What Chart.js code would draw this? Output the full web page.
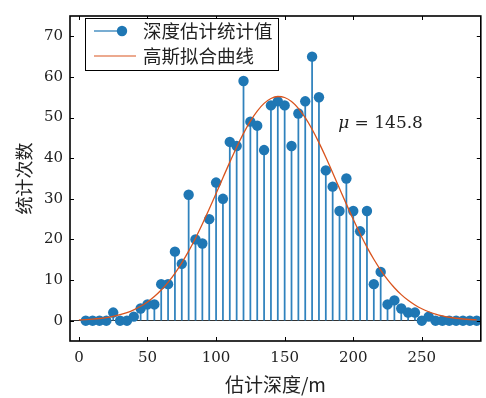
<!DOCTYPE html>
<html>
<head>
<meta charset="utf-8">
<script src="https://cdn.jsdelivr.net/npm/chart.js@4.4.1/dist/chart.umd.min.js"></script>
<style>
  html, body { margin: 0; padding: 0; background: #fff; }
  #wrap { width: 486px; height: 398px; }
</style>
</head>
<body>
<div id="wrap"><canvas id="grafico"></canvas></div>
<script>
// estimated depth histogram (x = depth in m, y = count)
const depth = [5, 10, 15, 20, 25, 30, 35, 40, 45, 50,
  55, 60, 65, 70, 75, 80, 85, 90, 95, 100,
  105, 110, 115, 120, 125, 130, 135, 140, 145, 150,
  155, 160, 165, 170, 175, 180, 185, 190, 195, 200,
  205, 210, 215, 220, 225, 230, 235, 240, 245, 250,
  255, 260, 265, 270, 275, 280, 285, 290];
const counts = [0, 0, 0, 0, 2, 0, 0, 1, 3, 4,
  4, 9, 9, 17, 14, 31, 20, 19, 25, 34,
  30, 44, 43, 59, 49, 48, 42, 53, 54, 53,
  43, 51, 54, 65, 55, 37, 33, 27, 35, 27,
  22, 27, 9, 12, 4, 5, 3, 2, 2, 0,
  1, 0, 0, 0, 0, 0, 0, 0];

// gaussian fit curve
const fitX = [0, 5, 10, 15, 20, 25, 30, 35, 40, 45,
  50, 55, 60, 65, 70, 75, 80, 85, 90, 95,
  100, 105, 110, 115, 120, 125, 130, 135, 140, 145,
  150, 155, 160, 165, 170, 175, 180, 185, 190, 195,
  200, 205, 210, 215, 220, 225, 230, 235, 240, 245,
  250, 255, 260, 265, 270, 275, 280, 285, 290];
const fitY = [0.18, 0.26, 0.38, 0.54, 0.76, 1.07, 1.47, 2.00, 2.68, 3.54,
  4.61, 5.94, 7.54, 9.45, 11.67, 14.23, 17.12, 20.31, 23.79, 27.47,
  31.30, 35.19, 39.03, 42.71, 46.11, 49.11, 51.60, 53.49, 54.70, 55.19,
  54.94, 53.95, 52.27, 49.96, 47.11, 43.83, 40.23, 36.43, 32.55, 28.69,
  24.95, 21.40, 18.11, 15.12, 12.46, 10.12, 8.12, 6.42, 5.01, 3.86,
  2.93, 2.20, 1.62, 1.18, 0.85, 0.60, 0.42, 0.29, 0.20];

const xTicks = [0, 50, 100, 150, 200, 250];
const yTicks = [0, 10, 20, 30, 40, 50, 60, 70];
const legendLabels = ['深度估计统计值', '高斯拟合曲线'];
const muText = '145.8';

const azul = '#1f77b4';
const vermelho = '#d9541e';
const serif = '"DejaVu Serif", "Liberation Serif", serif';
const cjk = '"Noto Sans CJK SC", sans-serif';

const pts = depth.map((d, i) => ({x: d, y: counts[i]}));
const curva = fitX.map((d, i) => ({x: d, y: fitY[i]}));

// frame, inward ticks, legend box and mu label
const extras = {
  id: 'extras',
  afterDraw(chart) {
    const {ctx, chartArea: a, scales: {x, y}} = chart;
    ctx.save();
    ctx.strokeStyle = '#000';
    ctx.lineWidth = 1;
    const tl = 4;
    xTicks.forEach(v => {
      const px = Math.round(x.getPixelForValue(v)) + 0.5;
      ctx.beginPath();
      ctx.moveTo(px, a.bottom); ctx.lineTo(px, a.bottom - tl);
      ctx.moveTo(px, a.top); ctx.lineTo(px, a.top + tl);
      ctx.stroke();
    });
    yTicks.forEach(v => {
      const py = Math.round(y.getPixelForValue(v)) + 0.5;
      ctx.beginPath();
      ctx.moveTo(a.left, py); ctx.lineTo(a.left + tl, py);
      ctx.moveTo(a.right, py); ctx.lineTo(a.right - tl, py);
      ctx.stroke();
    });
    ctx.lineWidth = 1.6;
    ctx.strokeRect(a.left, a.top, a.right - a.left, a.bottom - a.top);

    // legend
    const lx = a.left + 15, ly = a.top + 2, lw = 193, lh = 52;
    ctx.fillStyle = '#fff';
    ctx.fillRect(lx, ly, lw, lh);
    ctx.lineWidth = 1;
    ctx.strokeStyle = '#000';
    ctx.strokeRect(lx + 0.5, ly + 0.5, lw, lh);
    const r1 = ly + 13, r2 = ly + 38;
    ctx.strokeStyle = azul;
    ctx.lineWidth = 1.2;
    ctx.beginPath(); ctx.moveTo(lx + 9, r1); ctx.lineTo(lx + 37, r1); ctx.stroke();
    ctx.fillStyle = azul;
    ctx.beginPath(); ctx.arc(lx + 37, r1, 5.2, 0, Math.PI * 2); ctx.fill();
    ctx.strokeStyle = vermelho;
    ctx.lineWidth = 1.2;
    ctx.beginPath(); ctx.moveTo(lx + 9, r2); ctx.lineTo(lx + 51, r2); ctx.stroke();
    ctx.fillStyle = '#222';
    ctx.font = '18.5px ' + cjk;
    ctx.textBaseline = 'middle';
    ctx.fillText(legendLabels[0], lx + 58, r1);
    ctx.fillText(legendLabels[1], lx + 58, r2);

    // mu annotation
    const mx = x.getPixelForValue(189), my = y.getPixelForValue(48.5);
    ctx.font = 'italic 17px ' + serif;
    ctx.fillText('μ', mx, my);
    let w = ctx.measureText('μ').width;
    ctx.font = '17px ' + serif;
    ctx.fillText(' = ' + muText, mx + w, my);
    ctx.restore();
  }
};

new Chart(document.getElementById('grafico').getContext('2d'), {
  type: 'scatter',
  data: {
    datasets: [
      {
        type: 'line',
        data: curva,
        borderColor: vermelho,
        borderWidth: 1.3,
        pointRadius: 0,
        cubicInterpolationMode: 'monotone',
        order: 0
      },
      {
        type: 'scatter',
        data: pts,
        backgroundColor: azul,
        borderWidth: 0,
        pointRadius: 5.2,
        order: 1
      },
      {
        type: 'bar',
        data: pts,
        backgroundColor: '#2f82bd',
        barThickness: 1.1,
        grouped: false,
        order: 2
      }
    ]
  },
  options: {
    responsive: true,
    maintainAspectRatio: false,
    animation: false,
    events: [],
    layout: {padding: {top: 7, right: 1, bottom: 0, left: 0}},
    plugins: {legend: {display: false}, tooltip: {enabled: false}},
    scales: {
      x: {
        type: 'linear',
        min: -6.5,
        max: 293,
        offset: false,
        border: {display: false},
        grid: {display: false, drawTicks: false},
        afterBuildTicks: s => { s.ticks = xTicks.map(v => ({value: v})); },
        afterFit: s => { s.height = 57; },
        ticks: {color: '#222', padding: 8, maxRotation: 0, font: {family: serif, size: 15}},
        title: {display: true, text: '估计深度/m', color: '#222', padding: {top: 0, bottom: 2}, font: {family: cjk, size: 19}}
      },
      y: {
        min: -5,
        max: 75,
        border: {display: false},
        grid: {
          drawTicks: false,
          color: c => (c.tick && c.tick.value === 0 ? '#333' : 'rgba(0,0,0,0)'),
          lineWidth: 1
        },
        afterBuildTicks: s => { s.ticks = yTicks.map(v => ({value: v})); },
        afterFit: s => { s.width = 70; },
        ticks: {color: '#222', padding: 7, font: {family: serif, size: 15}},
        title: {display: true, text: '统计次数', color: '#222', padding: {top: 13, bottom: 0}, font: {family: cjk, size: 18}}
      }
    }
  },
  plugins: [extras]
});
</script>
</body>
</html>
